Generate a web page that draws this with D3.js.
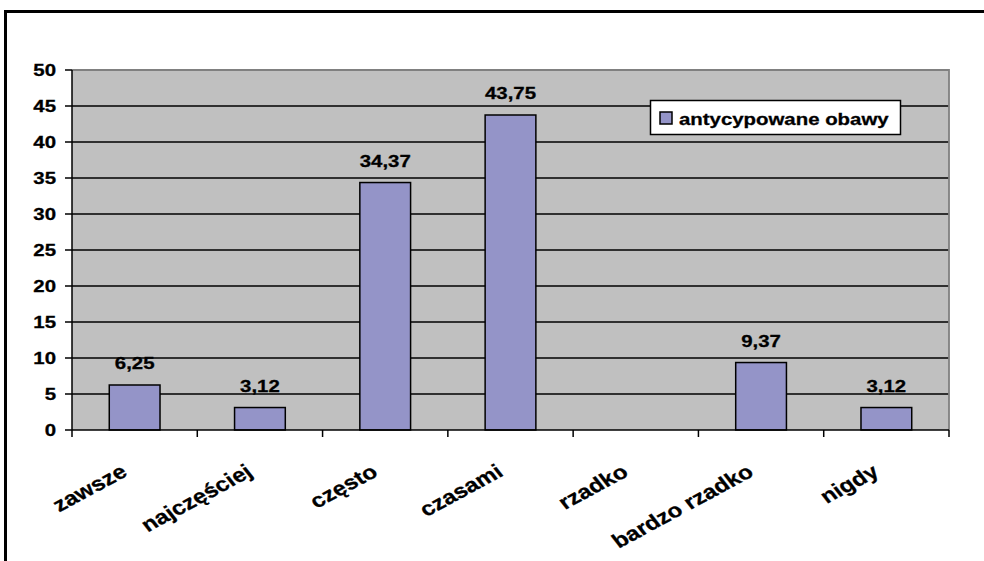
<!DOCTYPE html>
<html>
<head>
<meta charset="utf-8">
<script src="https://cdn.jsdelivr.net/npm/d3@7"></script>
<style>
  html, body { margin: 0; padding: 0; background: #fff; }
  svg { display: block; }
  text { font-family: "Liberation Sans", Arial, sans-serif; font-weight: bold; fill: #000; stroke: #000; stroke-width: 0.3px; }
</style>
</head>
<body>
<svg id="chart" width="984" height="561"></svg>
<script>
// Chart data
const categories = ["zawsze", "najczęściej", "często", "czasami", "rzadko", "bardzo rzadko", "nigdy"];
const values = [6.25, 3.12, 34.37, 43.75, 0, 9.37, 3.12];
const seriesName = "antycypowane obawy";
const yTicks = [0, 5, 10, 15, 20, 25, 30, 35, 40, 45, 50];

const plot = { left: 72, top: 70, right: 949, bottom: 430 };
const textStretch = 1.2;   // glyphs are drawn slightly wide
const fontSize = 17;
const catFontSize = 20;
const catAngle = -33;

const svg = d3.select("#chart");

// outer frame
svg.append("rect")
  .attr("x", 5.5).attr("y", 11.5)
  .attr("width", 1000).attr("height", 600)
  .attr("fill", "#fff").attr("stroke", "#000").attr("stroke-width", 3);

const x = d3.scaleBand().domain(categories)
  .range([plot.left, plot.right]).paddingInner(0.595).paddingOuter(0.2975);
const xBand = d3.scaleBand().domain(categories).range([plot.left, plot.right]);
const y = d3.scaleLinear().domain([0, 50]).range([plot.bottom, plot.top]);

// plot background
svg.append("rect")
  .attr("x", plot.left).attr("y", plot.top)
  .attr("width", plot.right - plot.left).attr("height", plot.bottom - plot.top)
  .attr("fill", "#C0C0C0");

// gridlines
svg.append("g").selectAll("line").data(yTicks.filter(d => d > 0 && d < 50)).join("line")
  .attr("x1", plot.left).attr("x2", plot.right)
  .attr("y1", d => y(d)).attr("y2", d => y(d))
  .attr("stroke", "#000").attr("stroke-width", 1.5);

// plot border (top and right)
svg.append("path")
  .attr("d", `M${plot.left},${plot.top}H${plot.right}V${plot.bottom}`)
  .attr("fill", "none").attr("stroke", "#808080").attr("stroke-width", 1.8);

const rows = categories.map((c, i) => ({ c, v: values[i] })).filter(d => d.v > 0);

// bars
svg.append("g").selectAll("rect").data(rows)
  .join("rect")
  .attr("x", d => x(d.c)).attr("width", x.bandwidth())
  .attr("y", d => y(d.v)).attr("height", d => y(0) - y(d.v))
  .attr("fill", "#9494C8").attr("stroke", "#000").attr("stroke-width", 1.5);

// value labels
const fmt = v => d3.format(".2f")(v).replace(".", ",");
svg.append("g").selectAll("text").data(rows)
  .join("text")
  .attr("transform", d => `translate(${x(d.c) + x.bandwidth() / 2},${y(d.v) - 16}) scale(${textStretch},1)`)
  .attr("text-anchor", "middle").attr("font-size", fontSize)
  .text(d => fmt(d.v));

// y axis
const yAxis = svg.append("g");
yAxis.append("line")
  .attr("x1", plot.left).attr("x2", plot.left)
  .attr("y1", plot.top).attr("y2", plot.bottom)
  .attr("stroke", "#000").attr("stroke-width", 1.5);
yAxis.selectAll("line.tick").data(yTicks).join("line").attr("class", "tick")
  .attr("x1", plot.left - 7).attr("x2", plot.left)
  .attr("y1", d => y(d)).attr("y2", d => y(d))
  .attr("stroke", "#000").attr("stroke-width", 1.5);
yAxis.selectAll("text").data(yTicks).join("text")
  .attr("transform", d => `translate(${plot.left - 16},${y(d) + 6}) scale(${textStretch},1)`)
  .attr("text-anchor", "end").attr("font-size", fontSize)
  .text(d => d);

// x axis
const xAxis = svg.append("g");
xAxis.append("line")
  .attr("x1", plot.left).attr("x2", plot.right)
  .attr("y1", plot.bottom).attr("y2", plot.bottom)
  .attr("stroke", "#000").attr("stroke-width", 1.5);
const bounds = categories.map(c => xBand(c)).concat([plot.right]);
xAxis.selectAll("line.tick").data(bounds).join("line").attr("class", "tick")
  .attr("x1", d => d).attr("x2", d => d)
  .attr("y1", plot.bottom).attr("y2", plot.bottom + 7)
  .attr("stroke", "#000").attr("stroke-width", 1.5);
xAxis.selectAll("text").data(categories).join("text")
  .attr("transform", d => `translate(${xBand(d) + xBand.bandwidth() / 2 - 6},${plot.bottom + 45}) scale(${textStretch},1) rotate(${catAngle})`)
  .attr("text-anchor", "end").attr("font-size", catFontSize)
  .text(d => d);

// legend
const lg = svg.append("g");
lg.append("rect")
  .attr("x", 650.5).attr("y", 100.5).attr("width", 250).attr("height", 34)
  .attr("fill", "#fff").attr("stroke", "#000").attr("stroke-width", 1.5);
lg.append("rect")
  .attr("x", 660).attr("y", 112).attr("width", 12).attr("height", 12)
  .attr("fill", "#9494C8").attr("stroke", "#000").attr("stroke-width", 1.5);
lg.append("text")
  .attr("transform", `translate(679,125) scale(${textStretch},1)`)
  .attr("font-size", fontSize)
  .text(seriesName);
</script>
</body>
</html>
